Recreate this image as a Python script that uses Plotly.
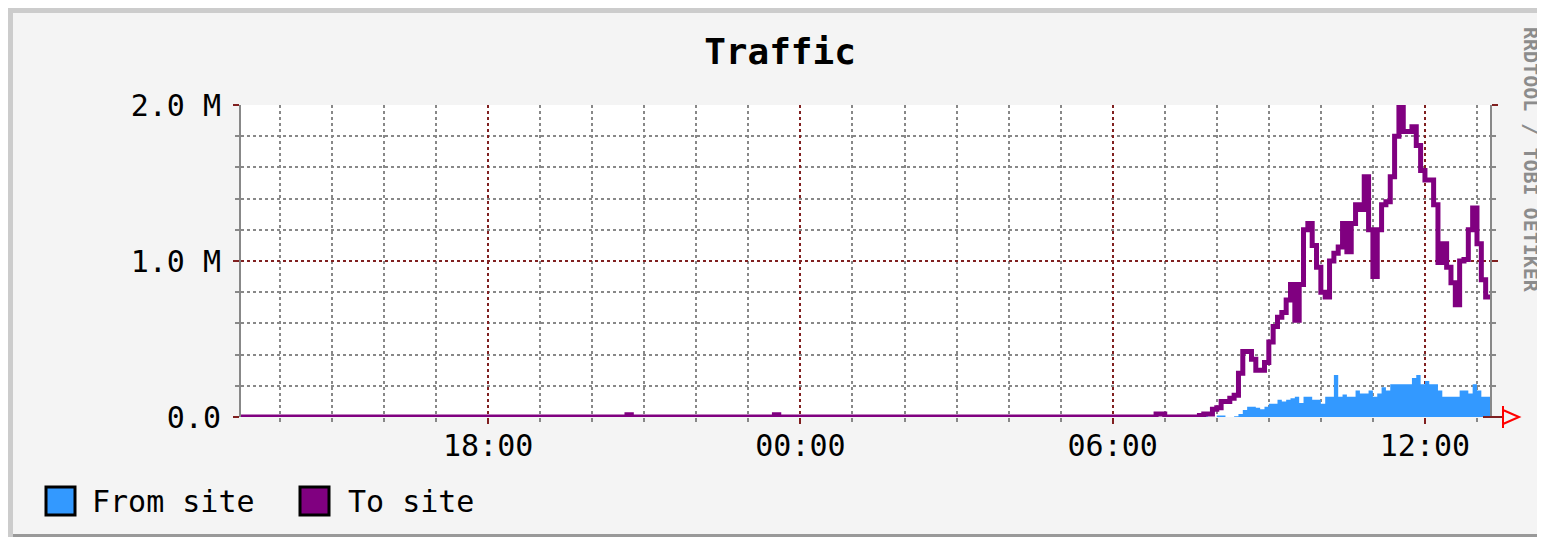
import plotly.graph_objects as go
import pandas as pd

# ---------------- data (values in M) ----------------
quiet_times = ["2024-01-01 13:15", "2024-01-01 20:40", "2024-01-01 20:45",
               "2024-01-01 23:30", "2024-01-01 23:35",
               "2024-01-02 06:50", "2024-01-02 07:00"]
quiet_to_site = [0, 0.015, 0, 0.015, 0, 0.02, 0]
quiet_from_site = [0, 0, 0, 0, 0, 0, 0]

active_start = "2024-01-02 07:30"
end_time = "2024-01-02 13:15"

active_to_site = [
    0, 0, 0.01, 0.02, 0.02, 0.05, 0.06, 0.10, 0.10, 0.12,
    0.14, 0.28, 0.42, 0.42, 0.37, 0.30, 0.30, 0.35, 0.48, 0.58,
    0.64, 0.67, 0.75, 0.85, 0.62, 0.85, 1.20, 1.24, 1.10, 0.96,
    0.80, 0.77, 1.00, 1.05, 1.09, 1.24, 1.06, 1.24, 1.36, 1.33,
    1.54, 1.20, 0.90, 1.20, 1.36, 1.38, 1.54, 1.80, 1.99, 1.83,
    1.83, 1.86, 1.74, 1.58, 1.52, 1.52, 1.36, 0.99, 1.11, 0.96,
    0.86, 0.72, 1.00, 1.01, 1.20, 1.34, 1.11, 0.88, 0.77,
]
active_from_site = [
    0, 0, 0, 0.005, 0, 0, 0.01, 0.01, 0, 0,
    0.005, 0.02, 0.045, 0.065, 0.065, 0.06, 0.05, 0.065, 0.085, 0.085,
    0.11, 0.10, 0.11, 0.12, 0.13, 0.09, 0.13, 0.13, 0.11, 0.11,
    0.085, 0.13, 0.13, 0.27, 0.13, 0.145, 0.13, 0.13, 0.17, 0.15,
    0.15, 0.17, 0.13, 0.15, 0.19, 0.17, 0.21, 0.21, 0.21, 0.21,
    0.21, 0.25, 0.27, 0.21, 0.23, 0.21, 0.21, 0.17, 0.13, 0.13,
    0.13, 0.13, 0.17, 0.17, 0.15, 0.21, 0.17, 0.13, 0.13,
]

series_names = ["From site", "To site"]
series_colors = ["#3399ff", "#800080"]
y_tickvals = [0, 1.0, 2.0]
y_ticktext = ["0.0", "1.0 M", "2.0 M"]

active_times = [t.strftime("%Y-%m-%d %H:%M") for t in
                pd.date_range(active_start, periods=len(active_to_site), freq="5min")]
x_all = quiet_times + active_times + [end_time]
to_all = quiet_to_site + active_to_site + [active_to_site[-1]]
from_all = quiet_from_site + active_from_site + [active_from_site[-1]]

FONT = "DejaVu Sans Mono"
OFF = 8                      # page body margin
W, H = 1545 - OFF, 540 - OFF
L, R, T, B = 241, 1490, 105, 417  # plot area in reference-page pixels


def px(x):
    return (x - L) / (R - L)


def py(y):
    return (B - y) / (B - T)


fig = go.Figure()
fig.add_trace(go.Scatter(
    x=x_all, y=from_all, mode="lines", fill="tozeroy",
    fillcolor=series_colors[0], line=dict(width=0, shape="hv", color=series_colors[0]),
    name=series_names[0], showlegend=False))
fig.add_trace(go.Scatter(
    x=x_all, y=to_all, mode="lines",
    line=dict(width=5, shape="hv", color=series_colors[1]),
    name=series_names[1], showlegend=False))

RED = "#802020"
GRAY = "#888888"

shapes = [
    # canvas with 3D border
    dict(type="rect", xref="paper", yref="paper", layer="below",
         x0=px(7), x1=px(1540), y0=py(7), y1=py(537),
         fillcolor="#cccccc", line=dict(width=0)),
    dict(type="rect", xref="paper", yref="paper", layer="below",
         x0=px(13), x1=px(1540), y0=py(13), y1=py(537),
         fillcolor="#999999", line=dict(width=0)),
    dict(type="rect", xref="paper", yref="paper", layer="below",
         x0=px(13), x1=px(1537), y0=py(13), y1=py(534),
         fillcolor="#f4f4f4", line=dict(width=0)),
    # white plot area
    dict(type="rect", xref="paper", yref="paper", layer="below",
         x0=0, x1=1, y0=0, y1=1, fillcolor="white", line=dict(width=0)),
    # axis arrow at right end
    dict(type="line", xref="paper", yref="paper", x0=px(1483), x1=px(1502),
         y0=0, y1=0, line=dict(color=RED, width=2)),
    dict(type="path", xref="paper", yref="paper",
         path=f"M {px(1503)},{py(406)} L {px(1503)},{py(428)} "
              f"M {px(1503)},{py(410)} L {px(1519)},{py(417)} L {px(1503)},{py(424)}",
         line=dict(color="#ff0000", width=2)),
    # legend boxes
    dict(type="rect", xref="paper", yref="paper", x0=px(46), x1=px(75),
         y0=py(487), y1=py(515), fillcolor=series_colors[0],
         line=dict(color="black", width=3)),
    dict(type="rect", xref="paper", yref="paper", x0=px(300), x1=px(329),
         y0=py(487), y1=py(515), fillcolor=series_colors[1],
         line=dict(color="black", width=3)),
]

annotations = [
    dict(text=series_names[0], xref="paper", yref="paper", x=px(90), y=py(501),
         xanchor="left", yanchor="middle", showarrow=False,
         font=dict(family=FONT, size=30, color="black")),
    dict(text=series_names[1], xref="paper", yref="paper", x=px(346), y=py(501),
         xanchor="left", yanchor="middle", showarrow=False,
         font=dict(family=FONT, size=30, color="black")),
    dict(text="RRDTOOL / TOBI OETIKER", xref="paper", yref="paper",
         x=px(1531), y=py(160), xanchor="center", yanchor="middle",
         textangle=90, showarrow=False,
         font=dict(family=FONT, size=20, color="#8c8c8c", weight="bold")),
]

fig.update_layout(
    width=W, height=H, autosize=False,
    margin=dict(l=L - OFF, r=1545 - R, t=T - OFF, b=540 - B, pad=0),
    paper_bgcolor="white", plot_bgcolor="white",
    title=dict(text="Traffic", x=(780 - OFF) / W, xref="container", xanchor="center",
               y=1 - (51 - OFF) / H, yref="container", yanchor="middle",
               font=dict(family=FONT, size=36, color="black", weight="bold")),
    shapes=shapes, annotations=annotations,
    showlegend=False,
    xaxis=dict(
        type="date", range=[quiet_times[0], end_time],
        tick0="2024-01-01 00:00", dtick=6 * 3600000, tickformat="%H:%M",
        showgrid=True, gridcolor=RED, griddash="dot", gridwidth=2,
        ticks="outside", ticklen=6, tickwidth=2, tickcolor=RED,
        ticklabelstandoff=-4,
        tickfont=dict(family=FONT, size=30, color="black"),
        showline=False, zeroline=False,
        minor=dict(dtick=3600000, tick0="2024-01-01 00:00", showgrid=True,
                   gridcolor=GRAY, griddash="dot", gridwidth=2,
                   ticks="outside", ticklen=4, tickwidth=2, tickcolor=GRAY),
    ),
    yaxis=dict(
        range=[0, 2.0], tickmode="array", tickvals=y_tickvals, ticktext=y_ticktext,
        showgrid=True, gridcolor=RED, griddash="dot", gridwidth=2,
        ticks="outside", ticklen=6, tickwidth=2, tickcolor=RED,
        ticklabelstandoff=6,
        tickfont=dict(family=FONT, size=30, color="black"),
        showline=True, linecolor=GRAY, linewidth=2, mirror="allticks",
        zeroline=False,
        minor=dict(tick0=0, dtick=0.2, showgrid=True,
                   gridcolor=GRAY, griddash="dot", gridwidth=2,
                   ticks="outside", ticklen=4, tickwidth=2, tickcolor=GRAY),
    ),
)

fig.write_html("out.html")
